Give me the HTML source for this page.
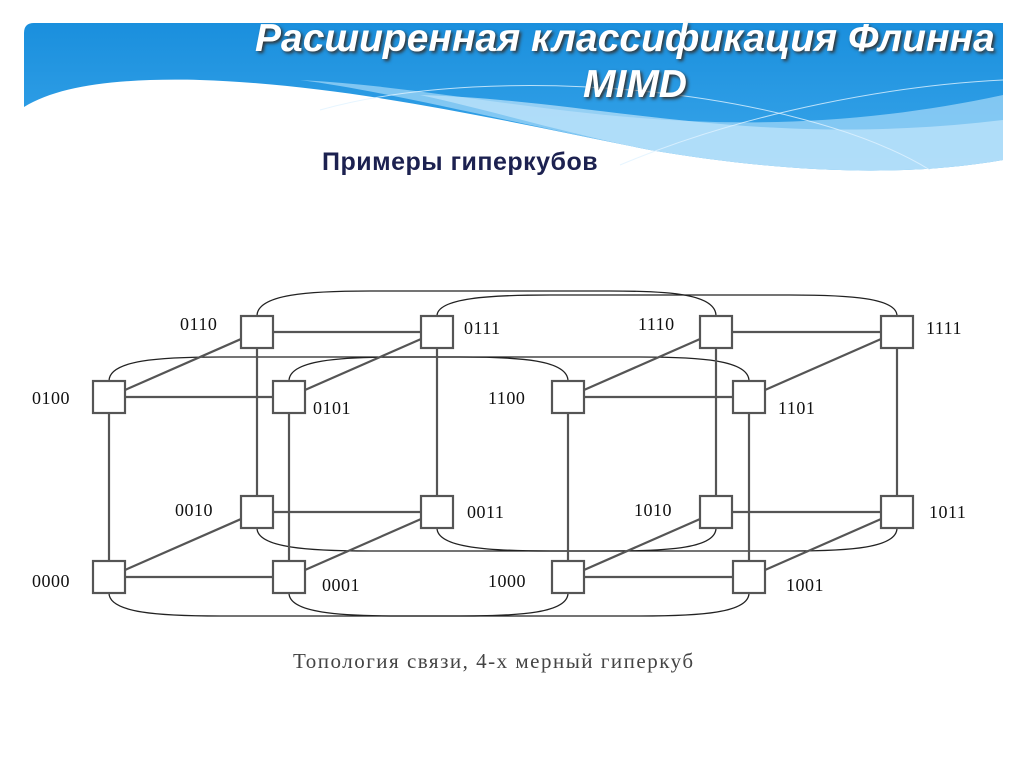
<!DOCTYPE html>
<html><head><meta charset="utf-8"><style>
body{margin:0;width:1024px;height:767px;background:#fff;overflow:hidden;position:relative;font-family:"Liberation Sans",sans-serif}
.t{position:absolute;color:#fff;font-weight:bold;font-style:italic;font-size:39px;text-shadow:2px 2px 3px #333;white-space:nowrap}
</style></head><body>
<svg width="1024" height="767" style="position:absolute;left:0;top:0">
<defs>
<linearGradient id="g" x1="0" y1="0" x2="0" y2="1"><stop offset="0" stop-color="#1a8fdd"/><stop offset="1" stop-color="#3aa6ea"/></linearGradient>
</defs>
<path d="M34,23 L1003,23 L1003,160 C900,178 780,172 650,150 C500,120 350,85 200,80 C120,78 60,85 24,107 L24,33 Q24,23 34,23 Z" fill="url(#g)"/>
<path d="M300,80 C500,90 700,160 1003,95 L1003,160 C900,178 780,172 650,150 C500,120 380,90 300,80Z" fill="#9fd6f7" opacity="0.75"/>
<path d="M420,95 C600,100 750,150 1003,120 L1003,160 C900,178 780,172 650,150 C560,132 490,110 420,95Z" fill="#c2e6fb" opacity="0.7"/>
<path d="M320,110 C500,60 800,90 930,170" stroke="#e0f3ff" stroke-width="1" fill="none" opacity=".8"/>
<path d="M620,165 C750,110 900,85 1003,80" stroke="#e0f3ff" stroke-width="1" fill="none" opacity=".8"/>
<g stroke="#222" stroke-width="1.3" fill="none">
<path d="M257,316 C257,294 310,291 370,291 L610,291 C670,291 716,294 716,316"/>
<path d="M437,316 C437,298 490,295 550,295 L790,295 C850,295 897,298 897,316"/>
<path d="M109,381 C109,360 160,357 220,357 L460,357 C520,357 568,360 568,381"/>
<path d="M289,381 C289,360 340,357 400,357 L640,357 C700,357 749,360 749,381"/>
<path d="M257,528 C257,548 310,551 370,551 L610,551 C670,551 716,548 716,528"/>
<path d="M437,528 C437,548 490,551 550,551 L790,551 C850,551 897,548 897,528"/>
<path d="M109,593 C109,613 160,616 220,616 L460,616 C520,616 568,613 568,593"/>
<path d="M289,593 C289,613 340,616 400,616 L640,616 C700,616 749,613 749,593"/>
</g>
<g stroke="#555" stroke-width="2.2" fill="none">
<path d="M257,332H437M109,397H289M257,512H437M109,577H289M257,332V512M437,332V512M109,397V577M289,397V577M109,397L257,332M289,397L437,332M109,577L257,512M289,577L437,512"/>
<path d="M716,332H897M568,397H749M716,512H897M568,577H749M716,332V512M897,332V512M568,397V577M749,397V577M568,397L716,332M749,397L897,332M568,577L716,512M749,577L897,512"/>
</g>
<g fill="#fff" stroke="#555" stroke-width="2.2">
<rect x="241" y="316" width="32" height="32"/><rect x="421" y="316" width="32" height="32"/>
<rect x="93" y="381" width="32" height="32"/><rect x="273" y="381" width="32" height="32"/>
<rect x="241" y="496" width="32" height="32"/><rect x="421" y="496" width="32" height="32"/>
<rect x="93" y="561" width="32" height="32"/><rect x="273" y="561" width="32" height="32"/>
<rect x="700" y="316" width="32" height="32"/><rect x="881" y="316" width="32" height="32"/>
<rect x="552" y="381" width="32" height="32"/><rect x="733" y="381" width="32" height="32"/>
<rect x="700" y="496" width="32" height="32"/><rect x="881" y="496" width="32" height="32"/>
<rect x="552" y="561" width="32" height="32"/><rect x="733" y="561" width="32" height="32"/>
</g>
<g font-family="Liberation Serif,serif" font-size="18" fill="#111" letter-spacing="0.5">
<text x="180" y="330">0110</text><text x="464" y="334">0111</text>
<text x="32" y="404">0100</text><text x="313" y="414">0101</text>
<text x="175" y="516">0010</text><text x="467" y="518">0011</text>
<text x="32" y="587">0000</text><text x="322" y="591">0001</text>
<text x="638" y="330">1110</text><text x="926" y="334">1111</text>
<text x="488" y="404">1100</text><text x="778" y="414">1101</text>
<text x="634" y="516">1010</text><text x="929" y="518">1011</text>
<text x="488" y="587">1000</text><text x="786" y="591">1001</text>
</g>
<text x="293" y="668" font-family="Liberation Serif,serif" font-size="21" letter-spacing="1.5" fill="#444">Топология связи, 4-х мерный гиперкуб</text>
</svg>
<div class="t" style="left:255px;top:17px">Расширенная классификация Флинна</div>
<div class="t" style="left:583px;top:63px">MIMD</div>
<div style="position:absolute;left:322px;top:148px;font-size:25px;font-weight:bold;color:#1c2150;letter-spacing:0.5px">Примеры гиперкубов</div>
</body></html>
